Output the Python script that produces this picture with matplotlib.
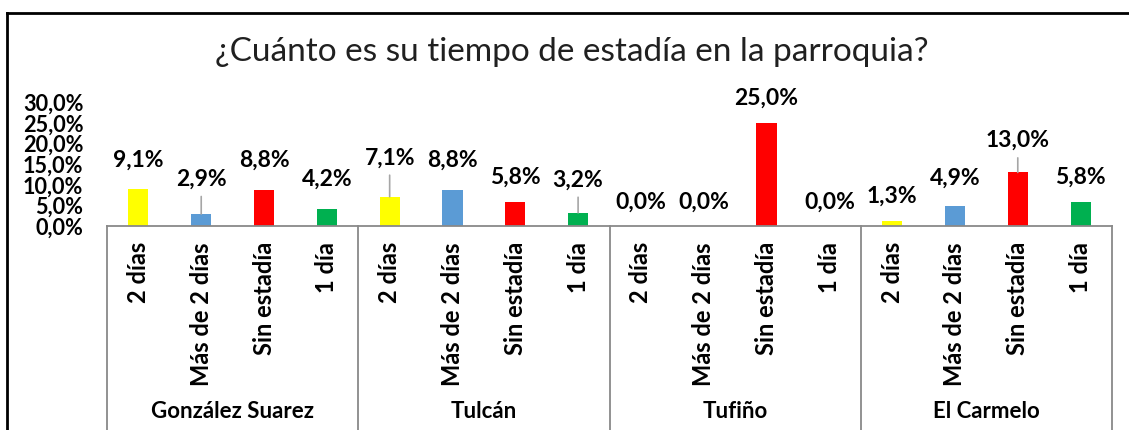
import matplotlib.pyplot as plt
from matplotlib.lines import Line2D
import matplotlib.transforms as mtransforms

# data
parroquias = ['González Suarez', 'Tulcán', 'Tufiño', 'El Carmelo']
categorias = ['2 días', 'Más de 2 días', 'Sin estadía', '1 día']
valores = [
    [9.1, 2.9, 8.8, 4.2],
    [7.1, 8.8, 5.8, 3.2],
    [0.0, 0.0, 25.0, 0.0],
    [1.3, 4.9, 13.0, 5.8],
]
colores = {'2 días': '#FFFF00', 'Más de 2 días': '#5B9BD5',
           'Sin estadía': '#FF0000', '1 día': '#00B050'}

# label offsets above bar top (pixels), and which labels get a leader line
label_off = [
    [28, 35, 30, 29],
    [39, 30, 25, 33],
    [24, 24, 25, 24],
    [24, 28, 32, 25],
]
leader = [
    [False, True, False, False],
    [True, False, False, True],
    [False, False, False, False],
    [False, False, True, False],
]

plt.rcParams['font.family'] = ['Lato', 'DejaVu Sans']

fig = plt.figure(figsize=(11.29, 4.30), dpi=100)
ax = fig.add_axes([107/1129, 204/430, (1112-107)/1129, 123.6/430])

n = len(categorias)
trans = mtransforms.blended_transform_factory(ax.transData, ax.transAxes)
for g, parr in enumerate(parroquias):
    for i, cat in enumerate(categorias):
        x = g*n + i
        v = valores[g][i]
        ax.bar(x, v, width=0.32, color=colores[cat])
        arrow = None
        if leader[g][i]:
            arrow = dict(arrowstyle='-', color='#A6A6A6', lw=1.2, shrinkA=3, shrinkB=0)
        ax.annotate(f'{v:.1f}%'.replace('.', ','), xy=(x, v),
                    xytext=(0, label_off[g][i]), textcoords='offset pixels',
                    ha='center', va='center', fontsize=16.5, fontweight='bold',
                    arrowprops=arrow)
        # category label
        ax.text(x, -0.13, cat, transform=trans, rotation=90, ha='center', va='top',
                fontsize=17, fontweight='bold')
    ax.text(g*n + (n-1)/2, -1.5, parr, transform=trans, ha='center', va='center',
            fontsize=16, fontweight='bold')

for b in range(len(parroquias)+1):
    ax.axvline(b*n - 0.5, ymin=-1.65, ymax=0, color='#898989', lw=1.3, clip_on=False)

ax.set_xlim(-0.5, len(parroquias)*n - 0.5)
ax.set_ylim(0, 30)
ax.set_yticks([0, 5, 10, 15, 20, 25, 30])
ax.set_yticklabels([f'{t:.1f}%'.replace('.', ',') for t in [0, 5, 10, 15, 20, 25, 30]],
                   fontsize=15.6, fontweight='bold')
ax.tick_params(axis='y', length=0, pad=17)
ax.set_xticks([])
for s in ['left', 'right', 'top']:
    ax.spines[s].set_visible(False)
ax.spines['bottom'].set_color('#898989')
ax.spines['bottom'].set_linewidth(1.3)

fig.text(572/1129, 1 - 52/430, '¿Cuánto es su tiempo de estadía en la parroquia?',
         ha='center', va='center', fontsize=24, fontweight='normal', color='#202020')

# outer border
fig.add_artist(Line2D([7/1129, 7/1129], [0, 1 - 13/430], color='black', lw=2))
fig.add_artist(Line2D([7/1129, 1], [1 - 13/430, 1 - 13/430], color='black', lw=2))

fig.savefig('out.png', dpi=100)
